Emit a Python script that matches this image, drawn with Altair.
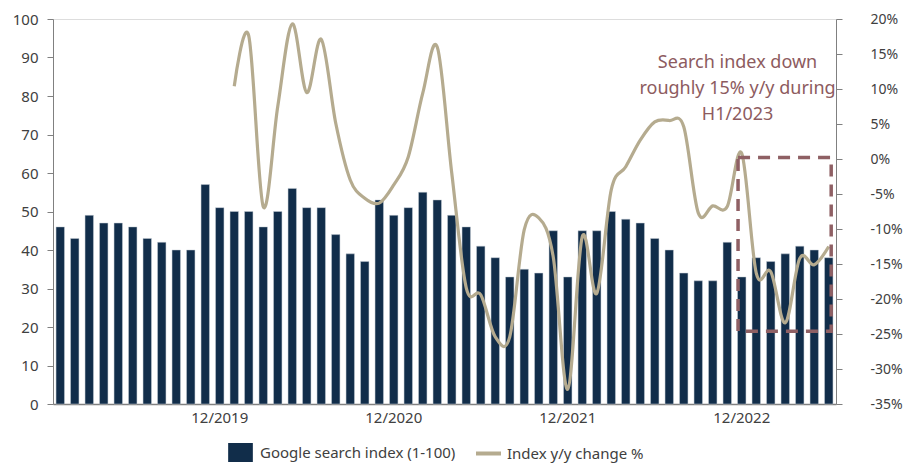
import altair as alt
import pandas as pd

FONT = "Noto Sans"

years = [2019, 2020, 2021, 2022, 2023]
months = [f"{m:02d}/{y}" for y in years for m in range(1, 13)][:54]
x_tick_labels = ["12/2019", "12/2020", "12/2021", "12/2022"]

search_index = [46, 43, 49, 47, 47, 46, 43, 42, 40, 40, 57, 51,
                50, 50, 46, 50, 56, 51, 51, 44, 39, 37, 53, 49,
                51, 55, 53, 49, 46, 41, 38, 33, 35, 34, 45, 33,
                45, 45, 50, 48, 47, 43, 40, 34, 32, 32, 42, 33,
                38, 37, 39, 41, 40, 38]

yoy_change = [10.4, 17.6, -6.8, 7.5, 19.3, 9.5, 17.1, 5.1, -3.0, -5.6, -6.3, -3.7,
              0.3, 9.4, 16.0, -2.0, -18.4, -19.4, -25.4, -25.4, -10.1, -8.4, -14.0, -32.9,
              -11.1, -19.2, -4.4, -1.1, 2.7, 5.3, 5.5, 4.6, -7.7, -6.7, -6.8, 0.8,
              -16.3, -16.1, -23.4, -14.2, -15.1, -12.5]

bar_name = "Google search index (1-100)"
line_name = "Index y/y change %"

bars_df = pd.DataFrame({"month": months, "value": search_index, "series": bar_name})
line_df = pd.DataFrame({"month": months[12:], "value": yoy_change, "series": line_name})

box_df = pd.DataFrame({"x0": ["12/2022"], "x1": ["06/2023"], "top": [0.2], "bottom": [-24.6]})
note_df = pd.DataFrame({"x0": ["12/2022"], "y": [13.7],
                        "label": ["Search index down\nroughly 15% y/y during\nH1/2023"]})

x_scale = alt.Scale(domain=months, paddingInner=0.42, paddingOuter=0.21)
right_domain = [-35, 20]


def right_scale():
    return alt.Scale(domain=right_domain, nice=False, zero=False)


x_axis = alt.Axis(
    title=None, ticks=False, labelAngle=0, labelOverlap=False, values=x_tick_labels,
    labelFont=FONT, labelFontSize=15, labelColor="#404040", labelPadding=6,
    domainColor="#808080", domainWidth=1.5, grid=False,
)

bars = alt.Chart(bars_df).mark_bar(stroke="#c5ccd4", strokeWidth=0.5).encode(
    x=alt.X("month:N", scale=x_scale, axis=x_axis, sort=months),
    y=alt.Y("value:Q", scale=alt.Scale(domain=[0, 100], nice=False),
            axis=alt.Axis(orient="left", title=None, values=list(range(0, 101, 10)), grid=False,
                          labelFont=FONT, labelFontSize=15, labelColor="#404040",
                          labelPadding=9, tickSize=6, tickColor="#808080",
                          domainColor="#808080")),
    color=alt.Color("series:N", scale=alt.Scale(domain=[bar_name], range=["#112d4a"]),
                    legend=alt.Legend(orient="none", legendX=178, legendY=424, title=None,
                                      padding=0, symbolType="M-1.3,-1H1.3V1H-1.3Z",
                                      symbolSize=361, symbolStrokeWidth=0, labelLimit=0,
                                      labelFont=FONT, labelFontSize=15, labelColor="#404040",
                                      labelOffset=10)),
)

line = alt.Chart(line_df).mark_line(strokeWidth=3.2, interpolate="cardinal").encode(
    x=alt.X("month:N", scale=x_scale, sort=months),
    y=alt.Y("value:Q", scale=right_scale(),
            axis=alt.Axis(orient="right", title=None, values=list(range(-35, 21, 5)),
                          labelExpr="datum.value + '%'", grid=False, labelAlign="left",
                          labelFont=FONT, labelFontSize=14, labelColor="#404040",
                          labelPadding=28, tickSize=6, tickColor="#808080",
                          domainColor="#808080")),
    stroke=alt.Stroke("series:N", scale=alt.Scale(domain=[line_name], range=["#b5ab8f"]),
                      legend=alt.Legend(orient="none", legendX=421, legendY=420, title=None,
                                        padding=0, symbolType="stroke", symbolSize=625,
                                        symbolStrokeWidth=4, labelLimit=0,
                                        labelFont=FONT, labelFontSize=15, labelColor="#404040",
                                        labelOffset=4)),
)

box = alt.Chart(box_df).mark_rect(fillOpacity=0, stroke="#8f6064", strokeWidth=3.5,
                                  strokeDash=[12, 8]).encode(
    x=alt.X("x0:N", scale=x_scale, bandPosition=0.06),
    x2=alt.X2("x1:N", bandPosition=0.79),
    y=alt.Y("top:Q", scale=right_scale(), axis=None),
    y2="bottom:Q",
)

note = alt.Chart(note_df).mark_text(font=FONT, fontSize=18, color="#8d5b60", align="center",
                                    baseline="middle", lineBreak="\n", lineHeight=26).encode(
    x=alt.X("x0:N", scale=x_scale, bandPosition=0.0),
    y=alt.Y("y:Q", scale=right_scale(), axis=None),
    text="label:N",
)

chart = alt.layer(bars, line, box, note).resolve_scale(
    y="independent", color="independent", stroke="independent"
).properties(
    width=783, height=385,
    autosize=alt.AutoSizeParams(type="none"),
    padding={"left": 53, "top": 19, "right": 67, "bottom": 59},
).configure_view(stroke=None).configure(background="white")

chart.save("out.html", embed_options={"renderer": "svg", "actions": False})
